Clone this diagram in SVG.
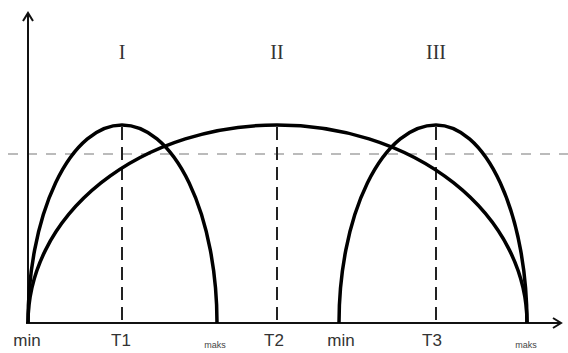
<svg xmlns="http://www.w3.org/2000/svg" width="568" height="353" viewBox="0 0 568 353">
<style>
.axis{stroke:#111;stroke-width:2;fill:none}
.curve{stroke:#000;stroke-width:3.5;fill:none}
.vdash{stroke:#222;stroke-width:2;stroke-dasharray:13 7;fill:none}
.hdash{stroke:#bbb;stroke-width:2;stroke-dasharray:10 9;fill:none}
.roman{font-family:"Liberation Serif",serif;font-size:20px;fill:#333;text-anchor:middle}
.lbl{font-family:"Liberation Sans",sans-serif;font-size:17px;fill:#333;text-anchor:middle}
.small{font-family:"Liberation Sans",sans-serif;font-size:9px;fill:#444;text-anchor:middle}
</style>
<defs>
<marker id="arr" markerWidth="12" markerHeight="12" refX="10" refY="6" orient="auto" markerUnits="userSpaceOnUse">
<path d="M2,1 L10,6 L2,11" fill="none" stroke="#111" stroke-width="2"/>
</marker>
</defs>
<g id="guides">
<line class="hdash" x1="8" y1="154" x2="568" y2="154"/>
</g>
<g id="connectors">
<line class="axis" x1="28" y1="324" x2="28" y2="13" marker-end="url(#arr)"/>
<line class="axis" x1="26" y1="323" x2="561" y2="323" marker-end="url(#arr)"/>
<line class="vdash" x1="122" y1="127" x2="122" y2="323"/>
<line class="vdash" x1="277" y1="127" x2="277" y2="323"/>
<line class="vdash" x1="436" y1="127" x2="436" y2="323"/>
</g>
<g id="curve-I">
<path class="curve" d="M28,323 A94,198 0 0 1 122,125 A95,198 0 0 1 217,323"/>
</g>
<g id="curve-II">
<path class="curve" d="M28,323 A249,198 0 0 1 277,125 A250,198 0 0 1 527,323"/>
</g>
<g id="curve-III">
<path class="curve" d="M339,323 A97,198 0 0 1 436,125 A91,198 0 0 1 527,323"/>
</g>
<g id="labels">
<text class="roman" x="122" y="59">I</text>
<text class="roman" x="277" y="59">II</text>
<text class="roman" x="436" y="59">III</text>
<text class="lbl" x="27" y="346">min</text>
<text class="lbl" x="121" y="346">T1</text>
<text class="small" x="215" y="348">maks</text>
<text class="lbl" x="274" y="346">T2</text>
<text class="lbl" x="341" y="346">min</text>
<text class="lbl" x="432" y="346">T3</text>
<text class="small" x="526" y="348">maks</text>
</g>
</svg>
